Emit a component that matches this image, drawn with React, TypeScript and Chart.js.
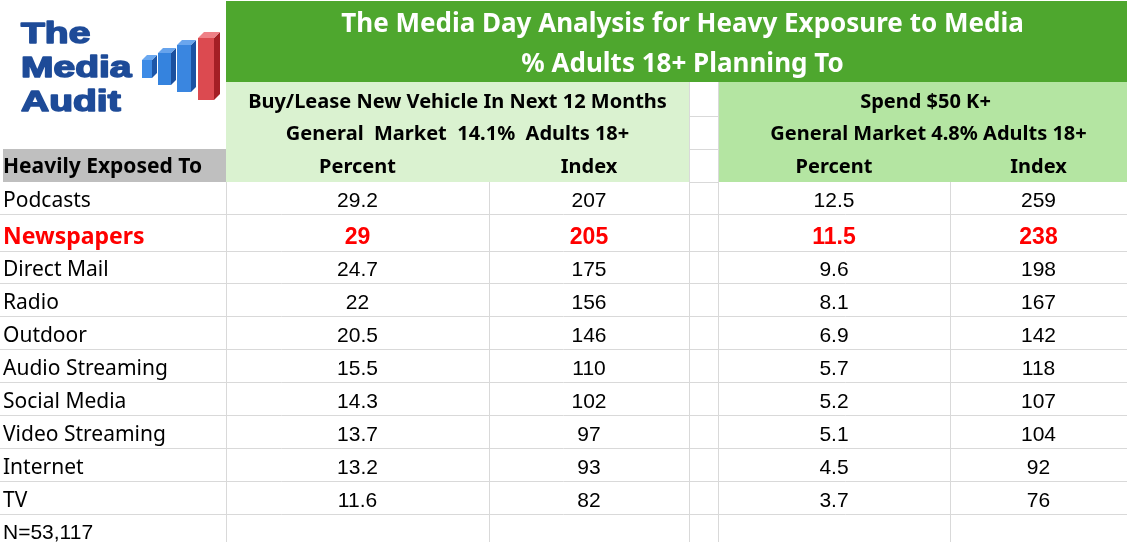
import React, { useEffect, useRef } from "react";
import { Chart, registerables } from "chart.js";
Chart.register(...registerables);

// ---------- DATA ----------
const TITLE_LINES = ["The Media Day Analysis for Heavy Exposure to Media", "% Adults 18+ Planning To"];
const GROUP_TITLES = ["Buy/Lease New Vehicle In Next 12 Months", "Spend $50 K+"];
const GROUP_SUBTITLES = ["General  Market  14.1%  Adults 18+", "General Market 4.8% Adults 18+"];
const COLUMN_HEADERS = ["Percent", "Index", "Percent", "Index"];
const ROW_HEADER = "Heavily Exposed To";
const CATEGORIES = ["Podcasts", "Newspapers", "Direct Mail", "Radio", "Outdoor", "Audio Streaming", "Social Media", "Video Streaming", "Internet", "TV"];
const VEHICLE_PERCENT = ["29.2", "29", "24.7", "22", "20.5", "15.5", "14.3", "13.7", "13.2", "11.6"];
const VEHICLE_INDEX = ["207", "205", "175", "156", "146", "110", "102", "97", "93", "82"];
const SPEND_PERCENT = ["12.5", "11.5", "9.6", "8.1", "6.9", "5.7", "5.2", "5.1", "4.5", "3.7"];
const SPEND_INDEX = ["259", "238", "198", "167", "142", "118", "107", "104", "92", "76"];
const HIGHLIGHT = "Newspapers";
const FOOTNOTE = "N=53,117";
const LOGO_LINES = ["The", "Media", "Audit"];

// ---------- LAYOUT (scale units) ----------
const W = 1130;
const H = 547;
// label | vehicle % | vehicle idx | gap | spend % | spend idx
const COL_EDGES = [0, 226, 489, 689, 718, 950, 1127];
const DATA_COLS = [1, 2, 4, 5];
const HEAD_EDGES = [0, 82, 116, 149, 182];
const ROW_EDGES = [182, 214, 251, 283, 316, 349, 382, 415, 448, 481, 514, 547];

const C = {
  green: "#4ea72e",
  lightL: "#daf2d0",
  lightR: "#b4e5a2",
  gray: "#bfbfbf",
  grid: "#d9d9d9",
  text: "#000000",
  red: "#ff0000",
  logo: "#1e4b98",
};
const HEAD_FONT = "'Noto Sans', 'Open Sans', sans-serif";
const CELL_FONT = "'Liberation Sans', Arial, sans-serif";

function drawLogo(ctx: CanvasRenderingContext2D) {
  ctx.save();
  ctx.fillStyle = C.logo;
  ctx.strokeStyle = C.logo;
  ctx.lineWidth = 1.6;
  ctx.lineJoin = "round";
  ctx.font = `bold 30px 'Liberation Sans', Arial, sans-serif`;
  ctx.textAlign = "left";
  ctx.textBaseline = "alphabetic";
  const ys = [43, 77, 111];
  LOGO_LINES.forEach((t, i) => {
    ctx.save();
    ctx.translate(21, ys[i]);
    ctx.scale(1.3, 1);
    ctx.fillText(t, 0, 0);
    ctx.strokeText(t, 0, 0);
    ctx.restore();
  });
  const bars = [
    { x: 142, w: 10, d: 5, top: 60, bot: 78, f: "#3d8be6", s: "#1c56a8", t: "#6aa8f0" },
    { x: 158, w: 13, d: 5, top: 53, bot: 85, f: "#3583de", s: "#1a4f9e", t: "#66a3ec" },
    { x: 177, w: 14, d: 5, top: 45, bot: 92, f: "#3a86e0", s: "#1b52a3", t: "#6aa6ee" },
    { x: 198, w: 16, d: 6, top: 38, bot: 100, f: "#dc4a50", s: "#a41f25", t: "#ef8086" },
  ];
  bars.forEach((b) => {
    ctx.fillStyle = b.f;
    ctx.fillRect(b.x, b.top, b.w, b.bot - b.top);
    ctx.fillStyle = b.s;
    ctx.beginPath();
    ctx.moveTo(b.x + b.w, b.top);
    ctx.lineTo(b.x + b.w + b.d, b.top - b.d);
    ctx.lineTo(b.x + b.w + b.d, b.bot - b.d);
    ctx.lineTo(b.x + b.w, b.bot);
    ctx.closePath();
    ctx.fill();
    ctx.fillStyle = b.t;
    ctx.beginPath();
    ctx.moveTo(b.x, b.top);
    ctx.lineTo(b.x + b.d, b.top - b.d);
    ctx.lineTo(b.x + b.w + b.d, b.top - b.d);
    ctx.lineTo(b.x + b.w, b.top);
    ctx.closePath();
    ctx.fill();
  });
  ctx.restore();
}

const tablePlugin = {
  id: "tablePlugin",
  beforeDatasetsDraw(chart: any) {
    const ctx: CanvasRenderingContext2D = chart.ctx;
    const xs = chart.scales.x;
    const ys = chart.scales.y;
    const X = (v: number) => xs.getPixelForValue(v);
    const Y = (v: number) => ys.getPixelForValue(v);
    ctx.save();
    ctx.fillStyle = "#ffffff";
    ctx.fillRect(0, 0, chart.width, chart.height);

    // backgrounds
    ctx.fillStyle = C.green;
    ctx.fillRect(X(COL_EDGES[1]), Y(HEAD_EDGES[0]) + 1, X(COL_EDGES[6]) - X(COL_EDGES[1]), Y(HEAD_EDGES[1]) - Y(HEAD_EDGES[0]) - 1);
    ctx.fillStyle = C.lightL;
    ctx.fillRect(X(COL_EDGES[1]), Y(HEAD_EDGES[1]), X(COL_EDGES[3]) - X(COL_EDGES[1]), Y(HEAD_EDGES[4]) - Y(HEAD_EDGES[1]));
    ctx.fillStyle = C.lightR;
    ctx.fillRect(X(COL_EDGES[4]), Y(HEAD_EDGES[1]), X(COL_EDGES[6]) - X(COL_EDGES[4]), Y(HEAD_EDGES[4]) - Y(HEAD_EDGES[1]));
    ctx.fillStyle = C.gray;
    ctx.fillRect(X(3), Y(HEAD_EDGES[3]), X(COL_EDGES[1]) - X(3), Y(HEAD_EDGES[4]) - Y(HEAD_EDGES[3]));

    // grid
    ctx.strokeStyle = C.grid;
    ctx.lineWidth = 1;
    const hline = (y: number, x0: number, x1: number) => {
      const py = Math.round(Y(y)) + 0.5;
      ctx.beginPath();
      ctx.moveTo(X(x0), py);
      ctx.lineTo(X(x1), py);
      ctx.stroke();
    };
    const vline = (x: number, y0: number, y1: number) => {
      const px = Math.round(X(x)) + 0.5;
      ctx.beginPath();
      ctx.moveTo(px, Y(y0));
      ctx.lineTo(px, Y(y1));
      ctx.stroke();
    };
    ROW_EDGES.slice(1, -1).forEach((e) => hline(e, 0, COL_EDGES[6]));
    hline(HEAD_EDGES[2], COL_EDGES[3], COL_EDGES[4]);
    hline(HEAD_EDGES[3], COL_EDGES[3], COL_EDGES[4]);
    hline(HEAD_EDGES[4], COL_EDGES[3], COL_EDGES[4]);
    [1, 2, 3, 4, 5].forEach((ci) => vline(COL_EDGES[ci], ROW_EDGES[0], 542));
    vline(COL_EDGES[3], HEAD_EDGES[1], HEAD_EDGES[4]);
    vline(COL_EDGES[4], HEAD_EDGES[1], HEAD_EDGES[4]);

    drawLogo(ctx);

    // title
    ctx.fillStyle = "#ffffff";
    ctx.textAlign = "center";
    ctx.textBaseline = "alphabetic";
    ctx.font = `bold 26px ${HEAD_FONT}`;
    const tcx = (X(COL_EDGES[1]) + X(COL_EDGES[6])) / 2 + 6;
    ctx.fillText(TITLE_LINES[0], tcx, Y(32));
    ctx.fillText(TITLE_LINES[1], tcx, Y(72));

    // group headers
    ctx.fillStyle = C.text;
    ctx.font = `bold 20px ${HEAD_FONT}`;
    const g0 = (X(COL_EDGES[1]) + X(COL_EDGES[3])) / 2;
    const g1 = (X(COL_EDGES[4]) + X(COL_EDGES[6])) / 2;
    ctx.fillText(GROUP_TITLES[0], g0, Y(HEAD_EDGES[2] - 8));
    ctx.fillText(GROUP_TITLES[1], g1 + 3, Y(HEAD_EDGES[2] - 8));
    ctx.fillText(GROUP_SUBTITLES[0], g0, Y(HEAD_EDGES[3] - 9));
    ctx.fillText(GROUP_SUBTITLES[1], g1 + 6, Y(HEAD_EDGES[3] - 9));
    DATA_COLS.forEach((ci, k) => {
      const cx = (X(COL_EDGES[ci]) + X(COL_EDGES[ci + 1])) / 2;
      ctx.fillText(COLUMN_HEADERS[k], cx, Y(HEAD_EDGES[4] - 9));
    });
    ctx.textAlign = "left";
    ctx.font = `bold 21px ${HEAD_FONT}`;
    ctx.fillText(ROW_HEADER, X(3), Y(HEAD_EDGES[4] - 9));

    // row labels
    CATEGORIES.forEach((cat, r) => {
      const hl = cat === HIGHLIGHT;
      ctx.fillStyle = hl ? C.red : C.text;
      ctx.font = hl ? `bold 23px ${HEAD_FONT}` : `21px ${HEAD_FONT}`;
      ctx.fillText(cat, X(3), Y(ROW_EDGES[r + 1] - 7));
    });
    ctx.fillStyle = C.text;
    ctx.font = `21px ${CELL_FONT}`;
    ctx.fillText(FOOTNOTE, X(3), Y(ROW_EDGES[11] - 8));
    ctx.restore();
  },
  afterDatasetsDraw(chart: any) {
    const ctx: CanvasRenderingContext2D = chart.ctx;
    const ys = chart.scales.y;
    ctx.save();
    ctx.textAlign = "center";
    ctx.textBaseline = "alphabetic";
    chart.data.datasets.forEach((ds: any, di: number) => {
      const meta = chart.getDatasetMeta(di);
      meta.data.forEach((el: any, r: number) => {
        const hl = CATEGORIES[r] === HIGHLIGHT;
        ctx.fillStyle = hl ? C.red : C.text;
        ctx.font = hl ? `bold 23px ${CELL_FONT}` : `21px ${CELL_FONT}`;
        ctx.fillText(ds.texts[r], el.x, ys.getPixelForValue(ROW_EDGES[r + 1] - 7));
      });
    });
    ctx.restore();
  },
};

export default function App() {
  const ref = useRef<HTMLCanvasElement | null>(null);
  useEffect(() => {
    document.body.style.margin = "0";
    const series = [VEHICLE_PERCENT, VEHICLE_INDEX, SPEND_PERCENT, SPEND_INDEX];
    const datasets = series.map((vals, k) => {
      const ci = DATA_COLS[k];
      const cx = (COL_EDGES[ci] + COL_EDGES[ci + 1]) / 2;
      return {
        label: COLUMN_HEADERS[k],
        texts: vals,
        data: vals.map((v, r) => ({ x: cx, y: (ROW_EDGES[r] + ROW_EDGES[r + 1]) / 2, v: parseFloat(v) })),
        pointRadius: 0,
        pointHoverRadius: 0,
        showLine: false,
      };
    });
    const chart = new Chart(ref.current as HTMLCanvasElement, {
      type: "scatter",
      data: { datasets: datasets as any },
      options: {
        responsive: false,
        animation: false,
        devicePixelRatio: 1,
        layout: { padding: 0 },
        events: [],
        plugins: { legend: { display: false }, tooltip: { enabled: false }, title: { display: false } },
        scales: {
          x: { type: "linear", min: 0, max: W, display: false },
          y: { type: "linear", min: 0, max: H, reverse: true, display: false },
        },
      },
      plugins: [tablePlugin],
    });
    return () => chart.destroy();
  }, []);
  return (
    <div style={{ position: "absolute", left: 0, top: 0, width: W, height: H, background: "#fff" }}>
      <canvas ref={ref} width={W} height={H} style={{ display: "block" }} />
    </div>
  );
}
